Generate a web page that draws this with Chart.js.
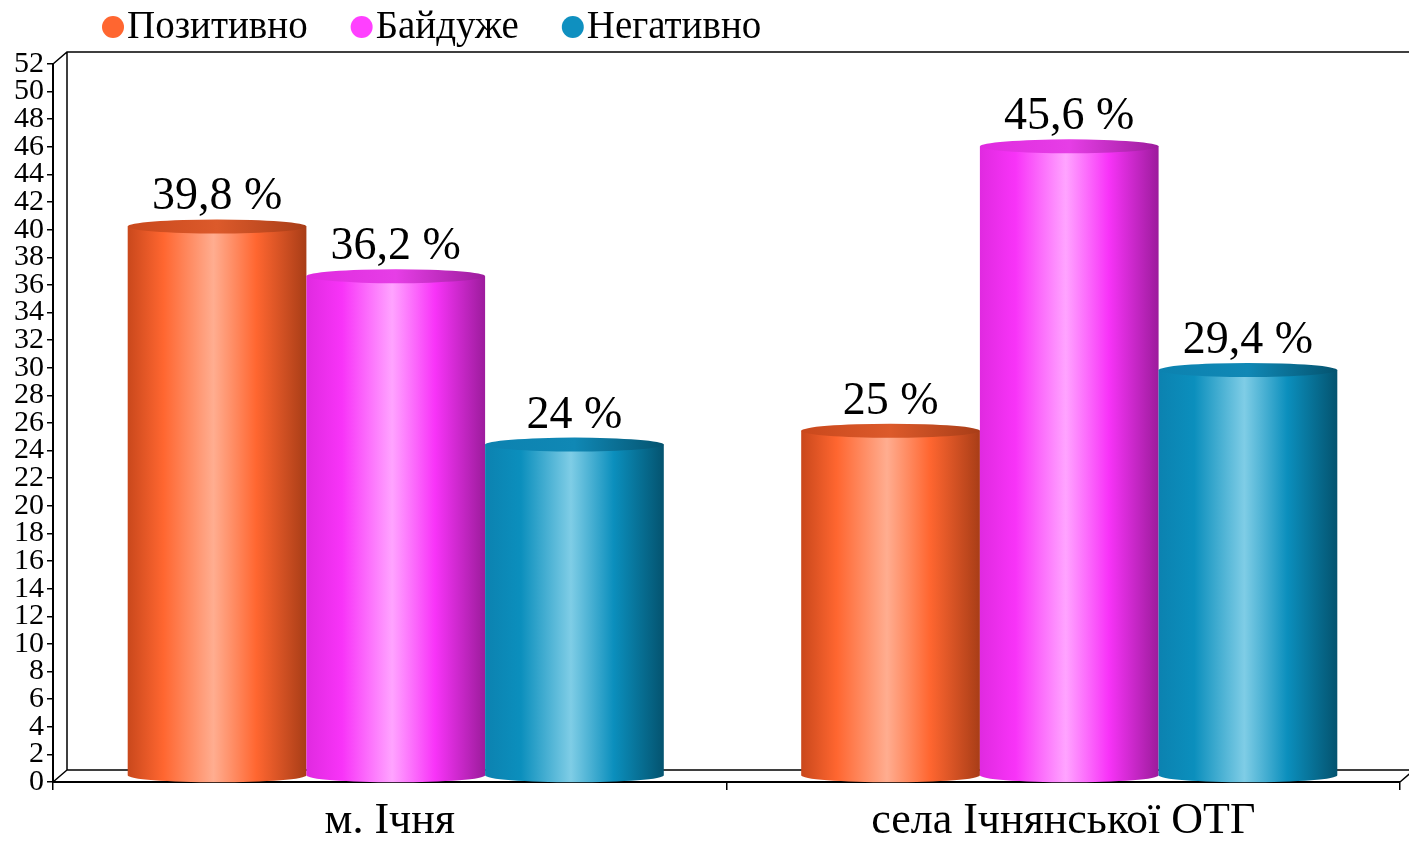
<!DOCTYPE html>
<html>
<head>
<meta charset="utf-8">
<script src="https://cdn.jsdelivr.net/npm/chart.js@4.4.1/dist/chart.umd.min.js"></script>
<style>
    html, body { margin: 0; padding: 0; background: #fff; }
    #wrap { width: 1409px; height: 841px; }
</style>
</head>
<body>
<div id="wrap"><canvas id="chart"></canvas></div>
<script>
// chart data
const categories = ['м. Ічня', 'села Ічнянської ОТГ'];
const seriesNames = ['Позитивно', 'Байдуже', 'Негативно'];
const positive = [39.8, 25];
const indifferent = [36.2, 45.6];
const negative = [24, 29.4];
const yMin = 0, yMax = 52, yStep = 2;

// shading for each cylinder: dark edge, base, highlight, top cap
const palettes = [
    { edge: '#c9481c', dark: '#a83d17', base: '#ff6630', light: '#ffad90', cap: '#dc5a2b', dot: '#ff6630' },
    { edge: '#e02ae0', dark: '#9c1c9c', base: '#f833f8', light: '#ffa4ff', cap: '#e63ee6', dot: '#ff40ff' },
    { edge: '#0c82b0', dark: '#04536f', base: '#0b8fbd', light: '#7fcde6', cap: '#1088b5', dot: '#0f90c0' }
];

const SERIF = '"Liberation Serif", "Times New Roman", serif';
const DX = 14, DY = 12;      // depth of the 3D box
const SHIFT = 6;             // cylinders sit in the middle of the depth
const RY = 7;                // ellipse radius of the caps

const fmt = v => String(v).replace('.', ',') + ' %';

// back wall + floor of the fake 3D box
const wallPlugin = {
    id: 'wall',
    beforeDatasetsDraw(chart) {
        const { ctx, chartArea: a } = chart;
        ctx.save();
        ctx.strokeStyle = '#000';
        ctx.lineWidth = 1.5;
        ctx.beginPath();
        ctx.moveTo(a.left, a.top);
        ctx.lineTo(a.left + DX, a.top - DY);
        ctx.lineTo(a.right + DX, a.top - DY);
        ctx.moveTo(a.left + DX, a.top - DY);
        ctx.lineTo(a.left + DX, a.bottom - DY);
        ctx.lineTo(a.right + DX, a.bottom - DY);
        ctx.moveTo(a.left, a.bottom);
        ctx.lineTo(a.left + DX, a.bottom - DY);
        ctx.moveTo(a.right, a.bottom);
        ctx.lineTo(a.right + DX, a.bottom - DY);
        ctx.stroke();
        ctx.restore();
    }
};

// cylinders drawn over the (transparent) bar elements
const cylinderPlugin = {
    id: 'cylinders',
    afterDatasetsDraw(chart) {
        const ctx = chart.ctx;
        ctx.save();
        chart.data.datasets.forEach((ds, di) => {
            const p = palettes[di];
            chart.getDatasetMeta(di).data.forEach((el, i) => {
                const w = el.width;
                const x = el.x + SHIFT;
                const left = x - w / 2;
                const top = el.y - SHIFT;
                const base = el.base - SHIFT;

                const g = ctx.createLinearGradient(left, 0, left + w, 0);
                g.addColorStop(0, p.edge);
                g.addColorStop(0.2, p.base);
                g.addColorStop(0.48, p.light);
                g.addColorStop(0.72, p.base);
                g.addColorStop(1, p.dark);

                ctx.fillStyle = g;
                ctx.beginPath();
                ctx.moveTo(left, top);
                ctx.lineTo(left, base);
                ctx.ellipse(x, base, w / 2, RY, 0, Math.PI, 0, true);
                ctx.lineTo(left + w, top);
                ctx.closePath();
                ctx.fill();

                const gc = ctx.createLinearGradient(left, 0, left + w, 0);
                gc.addColorStop(0, p.edge);
                gc.addColorStop(0.5, p.cap);
                gc.addColorStop(1, p.dark);
                ctx.fillStyle = gc;
                ctx.beginPath();
                ctx.ellipse(x, top, w / 2, RY, 0, 0, Math.PI * 2);
                ctx.fill();

                ctx.fillStyle = '#000';
                ctx.font = '46px ' + SERIF;
                ctx.textAlign = 'center';
                ctx.textBaseline = 'alphabetic';
                ctx.fillText(fmt(ds.data[i]), x, top - RY - 10);
            });
        });
        ctx.restore();
    }
};

// legend row at the top left
const legendPlugin = {
    id: 'customLegend',
    afterDraw(chart) {
        const ctx = chart.ctx;
        ctx.save();
        ctx.font = '39px ' + SERIF;
        ctx.textBaseline = 'middle';
        ctx.textAlign = 'left';
        let x = 102;
        const y = 27;
        chart.data.datasets.forEach((ds, di) => {
            ctx.fillStyle = palettes[di].dot;
            ctx.beginPath();
            ctx.arc(x + 11, y, 11, 0, Math.PI * 2);
            ctx.fill();
            ctx.fillStyle = '#000';
            ctx.fillText(ds.label, x + 25, y + 1);
            x += 25 + ctx.measureText(ds.label).width + 43;
        });
        ctx.restore();
    }
};

const values = [positive, indifferent, negative];

new Chart(document.getElementById('chart'), {
    type: 'bar',
    data: {
        labels: categories,
        datasets: seriesNames.map((name, i) => ({
            label: name,
            data: values[i],
            backgroundColor: 'rgba(0,0,0,0)',
            borderWidth: 0,
            categoryPercentage: 0.796,
            barPercentage: 1
        }))
    },
    options: {
        responsive: true,
        maintainAspectRatio: false,
        animation: false,
        layout: { padding: { top: 64, right: 9, left: 0, bottom: 0 } },
        plugins: {
            legend: { display: false },
            tooltip: { enabled: false }
        },
        scales: {
            x: {
                grid: { offset: true, drawOnChartArea: false, color: '#000', tickLength: 8, lineWidth: 1.5 },
                border: { color: '#000', width: 2 },
                ticks: { color: '#000', font: { family: SERIF, size: 44 }, padding: 5 },
                afterFit(s) { s.height = 59; }
            },
            y: {
                min: yMin,
                max: yMax,
                ticks: { stepSize: yStep, autoSkip: false, color: '#000', font: { family: SERIF, size: 30, lineHeight: 1 }, padding: 3 },
                grid: { drawOnChartArea: false, color: '#000', tickLength: 6, lineWidth: 1.5 },
                border: { color: '#000', width: 2 },
                afterFit(s) { s.width = 53; }
            }
        }
    },
    plugins: [wallPlugin, cylinderPlugin, legendPlugin]
});
</script>
</body>
</html>
